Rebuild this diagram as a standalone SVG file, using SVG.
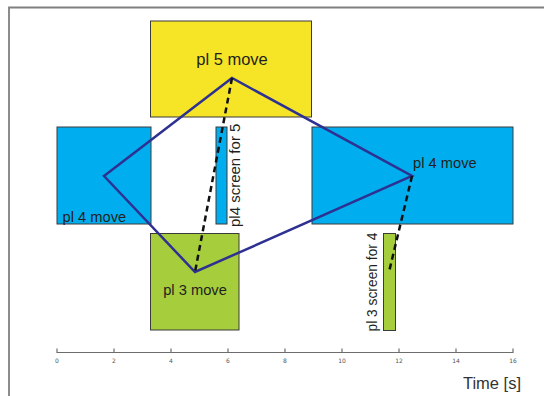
<svg xmlns="http://www.w3.org/2000/svg" width="544" height="396" viewBox="0 0 544 396">
<style>
.box{stroke:#3a3a3a;stroke-width:1}
.blue{fill:#00aeef}
.yellow{fill:#f6e526}
.green{fill:#a6cd3b}
.lbl{font-family:"Liberation Sans",Arial,sans-serif;fill:#231f20}
.tick{stroke:#6d6d6d;stroke-width:1.2}
.tl{font-family:"DejaVu Sans","Liberation Sans",sans-serif;font-size:6px;fill:#555;text-anchor:middle}
.poly{fill:none;stroke:#2e3192;stroke-width:2.5;stroke-linejoin:miter}
.dash{fill:none;stroke:#111;stroke-width:2.5;stroke-dasharray:6,4}
</style>
<rect width="544" height="396" fill="#fff"/>
<path d="M9,396 V7.5 H544" fill="none" stroke="#808080" stroke-width="1.8"/>
<g id="pl5move">
<rect class="box yellow" x="150.5" y="21" width="161" height="96"/>
<text class="lbl" x="232" y="65" font-size="16.5" text-anchor="middle">pl 5 move</text>
</g>
<g id="pl4move-a">
<rect class="box blue" x="57" y="127" width="94" height="97"/>
<text class="lbl" x="62.5" y="221.5" font-size="14.7">pl 4 move</text>
</g>
<g id="pl4screen">
<rect class="box blue" x="216" y="127" width="11" height="97"/>
<text class="lbl" transform="translate(240,227) rotate(-90)" font-size="15">pl4 screen for 5</text>
</g>
<g id="pl4move-b">
<rect class="box blue" x="312" y="127" width="201" height="97"/>
<text class="lbl" x="413" y="168" font-size="14.7">pl 4 move</text>
</g>
<g id="pl3move">
<rect class="box green" x="150.5" y="233.5" width="88.5" height="96.5"/>
<text class="lbl" x="195" y="295" font-size="14.7" text-anchor="middle">pl 3 move</text>
</g>
<g id="pl3screen">
<rect class="box green" x="383.5" y="233.5" width="12" height="97"/>
<text class="lbl" transform="translate(377,331.5) rotate(-90)" font-size="13.8">pl 3 screen for 4</text>
</g>
<g id="connectors">
<polygon class="poly" points="104,176 232,78 412,176 195,272"/>
<line class="dash" x1="232" y1="78" x2="195" y2="272"/>
<line class="dash" x1="412" y1="176" x2="389" y2="272"/>
</g>
<g id="axis">
<line class="tick" x1="57" y1="352.5" x2="513" y2="352.5" stroke-width="1.6"/>
<path class="tick" d="M57,348.5V353 M114,348.5V353 M171,348.5V353 M228,348.5V353 M285,348.5V353 M342,348.5V353 M399,348.5V353 M456,348.5V353 M513,348.5V353"/>
<text class="tl" x="57" y="363">0</text>
<text class="tl" x="114" y="363">2</text>
<text class="tl" x="171" y="363">4</text>
<text class="tl" x="228" y="363">6</text>
<text class="tl" x="285" y="363">8</text>
<text class="tl" x="342" y="363">10</text>
<text class="tl" x="399" y="363">12</text>
<text class="tl" x="456" y="363">14</text>
<text class="tl" x="513" y="363">16</text>
<text x="521" y="389" font-family="'Liberation Sans',Arial,sans-serif" font-size="16.5" fill="#333" text-anchor="end">Time [s]</text>
</g>
</svg>
